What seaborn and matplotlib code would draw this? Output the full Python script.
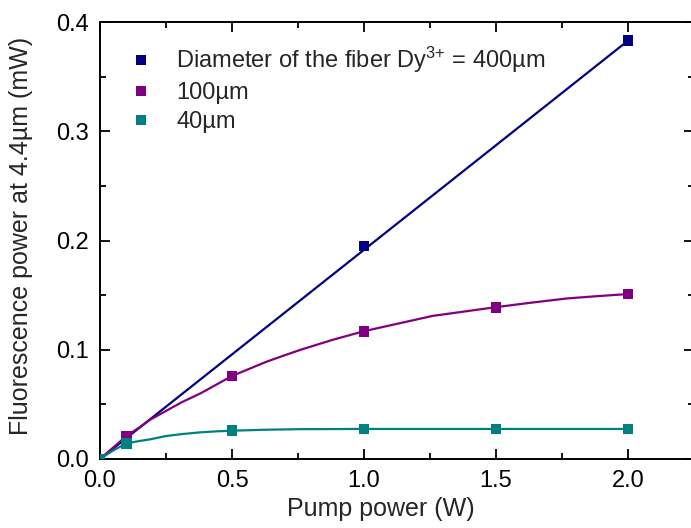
import numpy as np
import pandas as pd
import matplotlib
matplotlib.use("Agg")
import matplotlib.pyplot as plt
from matplotlib.ticker import MultipleLocator, FormatStrFormatter
import seaborn as sns

# measured points
pump = [0.0, 0.1, 0.5, 1.0, 1.5, 2.0]
p400_x = [0.0, 0.1, 1.0, 2.0]
p400_y = [0.0, 0.021, 0.195, 0.383]
p100_y = [0.0, 0.021, 0.076, 0.117, 0.139, 0.151]
p40_y = [0.0, 0.014, 0.026, 0.0275, 0.0275, 0.0275]

# fitted curves
fit400_x = [0.0, 2.0]
fit400_y = [0.0, 0.383]
fit100_x = [0.0, 0.1, 0.15, 0.19, 0.25, 0.31, 0.38, 0.44, 0.5, 0.57, 0.63, 0.7, 0.76,
            0.88, 1.0, 1.13, 1.26, 1.38, 1.5, 1.63, 1.77, 1.88, 2.0]
fit100_y = [0.0, 0.021, 0.029, 0.036, 0.044, 0.052, 0.060, 0.068, 0.076, 0.083, 0.089,
            0.095, 0.100, 0.109, 0.117, 0.124, 0.131, 0.135, 0.139, 0.143, 0.147, 0.149, 0.151]
fit40_x = [0.0, 0.05, 0.1, 0.15, 0.19, 0.25, 0.31, 0.38, 0.44, 0.5, 0.63, 0.76, 1.0, 1.5, 2.0]
fit40_y = [0.0, 0.0078, 0.0143, 0.0165, 0.018, 0.021, 0.0228, 0.0244, 0.0253, 0.0259,
           0.0268, 0.0273, 0.0275, 0.0275, 0.0275]

labels = ["Diameter of the fiber Dy$^{3{+}}$ = 400µm", "100µm", "40µm"]
colors = ["#000080", "#800080", "#008080"]

sns.set_style("ticks")
plt.rcParams["font.family"] = ["Liberation Sans", "DejaVu Sans"]
plt.rcParams["mathtext.fontset"] = "custom"
plt.rcParams["mathtext.rm"] = "Liberation Sans"
plt.rcParams["mathtext.it"] = "Liberation Sans"

fig = plt.figure(figsize=(6.91, 5.28), dpi=100)
ax = fig.add_axes([0.1447, 0.1307, 1.0045 - 0.1447, 0.9583 - 0.1307])

fits = [(fit400_x, fit400_y), (fit100_x, fit100_y), (fit40_x, fit40_y)]
for (fx, fy), c in zip(fits, colors):
    sns.lineplot(x=fx, y=fy, color=c, linewidth=1.6, ax=ax, sort=False)

pts = pd.concat([
    pd.DataFrame({"x": p400_x, "y": p400_y, "s": labels[0]}),
    pd.DataFrame({"x": pump, "y": p100_y, "s": labels[1]}),
    pd.DataFrame({"x": pump, "y": p40_y, "s": labels[2]}),
])
sns.scatterplot(data=pts, x="x", y="y", hue="s", palette=colors, marker="s",
                s=60, edgecolor="none", linewidth=0, ax=ax, zorder=5)

ax.set_xlim(0, 2.25)
ax.set_ylim(0, 0.4)
ax.xaxis.set_major_locator(MultipleLocator(0.5))
ax.xaxis.set_minor_locator(MultipleLocator(0.25))
ax.yaxis.set_major_locator(MultipleLocator(0.1))
ax.yaxis.set_minor_locator(MultipleLocator(0.05))
ax.xaxis.set_major_formatter(FormatStrFormatter("%.1f"))
ax.yaxis.set_major_formatter(FormatStrFormatter("%.1f"))
ax.tick_params(which="both", direction="in", top=True, right=True, width=1.3,
               labelsize=17, colors="black")
ax.tick_params(which="major", length=7)
ax.tick_params(which="minor", length=4)
ax.tick_params(axis="x", which="major", pad=8)
ax.tick_params(axis="y", which="major", pad=8)
for sp in ax.spines.values():
    sp.set_linewidth(1.4)
    sp.set_color("black")

ax.set_xlabel("Pump power (W)", fontsize=18)
ax.set_ylabel("Fluorescence power at 4.4µm (mW)", fontsize=18)
ax.xaxis.set_label_coords(0.473, -0.088)
ax.yaxis.set_label_coords(-0.113, 0.51)

leg = ax.legend(loc="upper left", bbox_to_anchor=(0.005, 0.98), frameon=False,
                fontsize=17, handletextpad=0.5, labelspacing=0.3,
                markerscale=1.0, borderaxespad=0.2)

fig.savefig("out.png", dpi=100)
